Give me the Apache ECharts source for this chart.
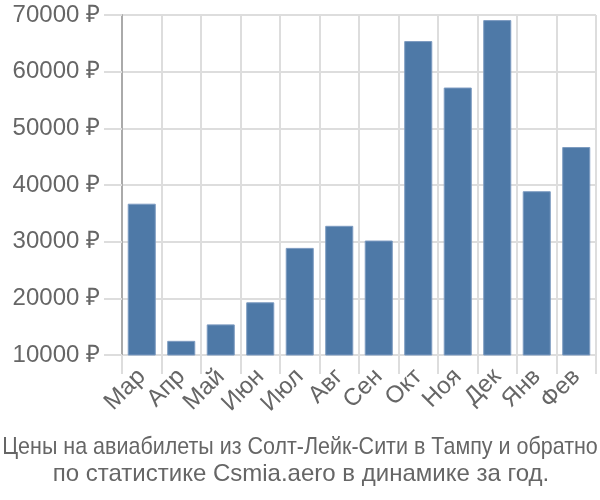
<!DOCTYPE html>
<html><head><meta charset="utf-8">
<script src="https://cdn.jsdelivr.net/npm/echarts@6/dist/echarts.min.js"></script>
<style>html,body{margin:0;padding:0;background:#fff}#c{width:600px;height:500px}</style>
</head><body><div id="c"></div>
<script>
const categories = ['Мар','Апр','Май','Июн','Июл','Авг','Сен','Окт','Ноя','Дек','Янв','Фев'];
const prices = [36700, 12500, 15400, 19300, 28900, 32800, 30200, 65400, 57200, 69100, 38900, 46700];
const titleLines = ['Цены на авиабилеты из Солт-Лейк-Сити в Тампу и обратно', 'по статистике Csmia.aero в динамике за год.'];
const yMin = 10000, yMax = 70000, yStep = 10000;

const chart = echarts.init(document.getElementById('c'), null, {renderer:'canvas'});
const font = 'Liberation Sans, Arial, sans-serif';
const titleFont = '24px ' + font;
chart.setOption({
  animation: false,
  graphic: [
    {type: 'text', x: 300, y: 447, scaleX: 0.895,
     style: {text: titleLines[0], font: titleFont, fill: '#666', align: 'center', verticalAlign: 'middle'}},
    {type: 'text', x: 301, y: 474,
     style: {text: titleLines[1], font: titleFont, fill: '#666', align: 'center', verticalAlign: 'middle'}}
  ],
  grid: {left: 122, right: 4, top: 15, bottom: 145, containLabel: false},
  xAxis: {
    type: 'category', data: categories,
    axisLine: {show: false},
    axisTick: {show: true, length: 19, lineStyle: {color: '#ddd', width: 2}},
    splitLine: {show: true, lineStyle: {color: '#ddd', width: 2}},
    axisLabel: {rotate: 45, fontFamily: font, fontSize: 24, color: '#666', margin: 18, interval: 0}
  },
  yAxis: {
    type: 'value', min: yMin, max: yMax, interval: yStep,
    axisLine: {show: true, lineStyle: {color: '#aaa', width: 2}},
    axisTick: {show: true, length: 18, lineStyle: {color: '#ddd', width: 2}},
    splitLine: {show: true, lineStyle: {color: '#ddd', width: 2}},
    axisLabel: {fontFamily: font, fontSize: 24, color: '#666', margin: 22, formatter: v => v + ' ₽'}
  },
  series: [{
    type: 'bar', data: prices, barCategoryGap: '29%',
    itemStyle: {color: '#4e79a7', borderColor: '#7d9bc1', borderWidth: 1}
  }]
});
</script></body></html>
